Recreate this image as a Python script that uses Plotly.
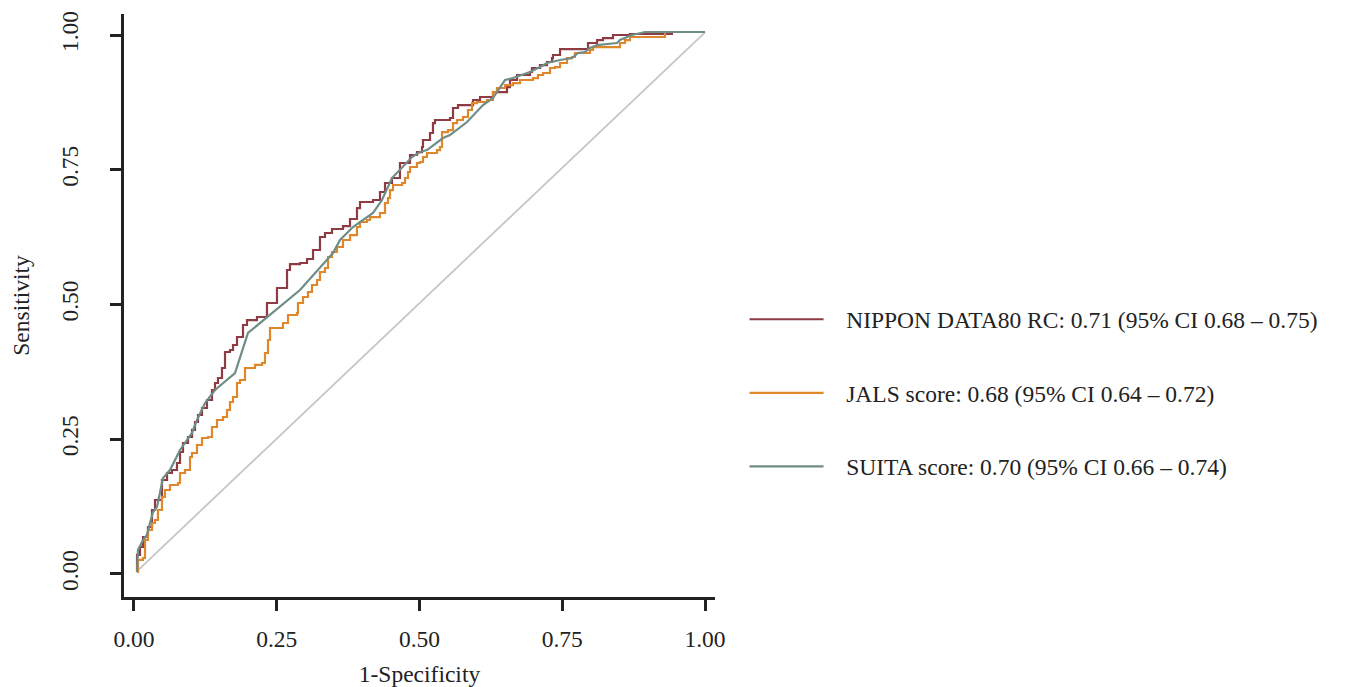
import plotly.graph_objects as go

# ---- data ----
nippon_fpr = [0.0053, 0.0053, 0.0105, 0.0158, 0.0228, 0.0245, 0.0315, 0.0368, 0.0420, 0.0490, 0.0578, 0.0665,
              0.0753, 0.0806, 0.0858, 0.0946, 0.1016, 0.1068, 0.1121, 0.1191, 0.1278, 0.1366, 0.1419, 0.1471,
              0.1541, 0.1594, 0.1681, 0.1734, 0.1804, 0.1909, 0.1979, 0.2154, 0.2329, 0.2504, 0.2680, 0.2732,
              0.2907, 0.3030, 0.3135, 0.3257, 0.3345, 0.3468, 0.3660, 0.3783, 0.3905, 0.3958, 0.4186, 0.4308,
              0.4396, 0.4518, 0.4658, 0.4834, 0.4956, 0.5044, 0.5061, 0.5184, 0.5236, 0.5271, 0.5534, 0.5587,
              0.5674, 0.5832, 0.5937, 0.6060, 0.6200, 0.6287, 0.6532, 0.6585, 0.6708, 0.6935, 0.6970, 0.7110,
              0.7233, 0.7320, 0.7338, 0.7461, 0.7933, 0.7951, 0.8109, 0.8214, 0.8389, 0.8687, 0.9440]
nippon_tpr = [0.0037, 0.0353, 0.0501, 0.0686, 0.0724, 0.0872, 0.1187, 0.1373, 0.1373, 0.1744, 0.1874, 0.1929,
              0.2059, 0.2263, 0.2430, 0.2542, 0.2672, 0.2820, 0.2950, 0.3080, 0.3228, 0.3414, 0.3544, 0.3636,
              0.3822, 0.4119, 0.4156, 0.4249, 0.4397, 0.4620, 0.4712, 0.4768, 0.5028, 0.5306, 0.5640, 0.5751,
              0.5770, 0.5844, 0.6011, 0.6252, 0.6327, 0.6401, 0.6456, 0.6586, 0.6790, 0.6902, 0.6939, 0.7087,
              0.7254, 0.7347, 0.7625, 0.7774, 0.7829, 0.7922, 0.8052, 0.8182, 0.8367, 0.8423, 0.8460, 0.8646,
              0.8701, 0.8701, 0.8794, 0.8850, 0.8850, 0.8942, 0.9035, 0.9165, 0.9258, 0.9314, 0.9388, 0.9443,
              0.9499, 0.9573, 0.9629, 0.9740, 0.9740, 0.9852, 0.9907, 0.9944, 1.0000, 1.0019, 1.0019]

jals_fpr = [0.0053, 0.0070, 0.0158, 0.0193, 0.0245, 0.0315, 0.0368, 0.0420, 0.0490, 0.0543, 0.0630, 0.0771,
            0.0806, 0.0893, 0.0981, 0.1016, 0.1103, 0.1191, 0.1296, 0.1366, 0.1454, 0.1559, 0.1629, 0.1681,
            0.1734, 0.1804, 0.1856, 0.1944, 0.2119, 0.2242, 0.2294, 0.2347, 0.2382, 0.2557, 0.2609, 0.2697,
            0.2855, 0.2872, 0.2960, 0.3047, 0.3117, 0.3205, 0.3257, 0.3345, 0.3398, 0.3468, 0.3555, 0.3660,
            0.3783, 0.3905, 0.3958, 0.4081, 0.4133, 0.4308, 0.4396, 0.4448, 0.4483, 0.4536, 0.4694, 0.4746,
            0.4799, 0.4834, 0.4956, 0.5009, 0.5061, 0.5131, 0.5306, 0.5359, 0.5394, 0.5499, 0.5587, 0.5657,
            0.5762, 0.5849, 0.5919, 0.6007, 0.6182, 0.6287, 0.6357, 0.6497, 0.6637, 0.6760, 0.6988, 0.7075,
            0.7163, 0.7285, 0.7373, 0.7461, 0.7583, 0.7671, 0.7723, 0.7933, 0.7986, 0.8039, 0.8459, 0.8511,
            0.8599, 0.8687, 0.9264, 0.9299]
jals_tpr = [0.0037, 0.0260, 0.0297, 0.0631, 0.0816, 0.0946, 0.1002, 0.1187, 0.1429, 0.1558, 0.1651, 0.1688,
            0.1874, 0.1929, 0.2171, 0.2245, 0.2393, 0.2523, 0.2542, 0.2727, 0.2857, 0.2913, 0.3043, 0.3191,
            0.3284, 0.3544, 0.3599, 0.3822, 0.3878, 0.3915, 0.4100, 0.4341, 0.4564, 0.4564, 0.4657, 0.4805,
            0.4842, 0.5028, 0.5139, 0.5232, 0.5362, 0.5455, 0.5603, 0.5677, 0.5881, 0.5974, 0.6067, 0.6197,
            0.6289, 0.6438, 0.6531, 0.6568, 0.6623, 0.6698, 0.6883, 0.6976, 0.7124, 0.7217, 0.7254, 0.7347,
            0.7458, 0.7551, 0.7625, 0.7644, 0.7737, 0.7811, 0.7866, 0.7922, 0.8200, 0.8237, 0.8367, 0.8423,
            0.8479, 0.8609, 0.8738, 0.8757, 0.8794, 0.8942, 0.9017, 0.9072, 0.9109, 0.9165, 0.9202, 0.9258,
            0.9295, 0.9388, 0.9406, 0.9481, 0.9573, 0.9592, 0.9666, 0.9666, 0.9722, 0.9777, 0.9777, 0.9852,
            0.9907, 0.9963, 0.9963, 1.0037]

suita_fpr = [0.0053, 0.0070, 0.0158, 0.0228, 0.0280, 0.0333, 0.0403, 0.0508, 0.0630, 0.0753, 0.0806, 0.1016,
             0.1103, 0.1244, 0.1419, 0.1769, 0.1996, 0.2907, 0.3485, 0.3608, 0.3835, 0.4186, 0.4343, 0.4518,
             0.4869, 0.5009, 0.5131, 0.5412, 0.5534, 0.5832, 0.6112, 0.6287, 0.6410, 0.6497, 0.6637, 0.6795,
             0.6935, 0.7110, 0.7233, 0.7461, 0.7671, 0.7776, 0.7898, 0.7986, 0.8109, 0.8459, 0.8511, 0.8722,
             0.8949, 1.0000]
suita_tpr = [0.0037, 0.0445, 0.0631, 0.0724, 0.0946, 0.1150, 0.1243, 0.1781, 0.1929, 0.2171, 0.2301, 0.2616,
             0.2857, 0.3173, 0.3414, 0.3729, 0.4471, 0.5269, 0.5955, 0.6197, 0.6438, 0.6698, 0.6939, 0.7347,
             0.7737, 0.7829, 0.7866, 0.8089, 0.8145, 0.8386, 0.8701, 0.8831, 0.9017, 0.9165, 0.9202, 0.9258,
             0.9314, 0.9406, 0.9481, 0.9536, 0.9573, 0.9666, 0.9685, 0.9759, 0.9814, 0.9852, 0.9907, 1.0000,
             1.0056, 1.0056]

ref_x = [0.005, 1.0]
ref_y = [0.005, 1.005]

names = ["NIPPON DATA80 RC: 0.71 (95% CI 0.68 \u2013 0.75)",
         "JALS score: 0.68 (95% CI 0.64 \u2013 0.72)",
         "SUITA score: 0.70 (95% CI 0.66 \u2013 0.74)"]
colors = ["#8E3B43", "#E0862B", "#6E8D87"]

tick_vals = [0, 0.25, 0.5, 0.75, 1.0]
tick_text = ["0.00", "0.25", "0.50", "0.75", "1.00"]

FONT = "Liberation Serif, Times New Roman, serif"
PAD = "\u00a0\u00a0\u00a0"

fig = go.Figure()
fig.add_trace(go.Scatter(x=ref_x, y=ref_y, mode="lines", line=dict(color="#C6C6C6", width=1.8),
                         showlegend=False, hoverinfo="skip"))
fig.add_trace(go.Scatter(x=nippon_fpr, y=nippon_tpr, mode="lines", name=PAD + names[0], legendgroup="a",
                         line=dict(color=colors[0], width=2.2, shape="hv")))
fig.add_trace(go.Scatter(x=jals_fpr, y=jals_tpr, mode="lines", name=PAD + names[1], legendgroup="b",
                         line=dict(color=colors[1], width=2.2, shape="hv")))
fig.add_trace(go.Scatter(x=suita_fpr, y=suita_tpr, mode="lines", name=PAD + names[2], legendgroup="c",
                         line=dict(color=colors[2], width=2.2)))

axis_common = dict(showgrid=False, zeroline=False, showline=True, linecolor="#222222", linewidth=3,
                   ticks="outside", ticklen=11, tickwidth=3, tickcolor="#222222",
                   tickvals=tick_vals, ticktext=tick_text, automargin=False,
                   tickfont=dict(family=FONT, size=23.5, color="#222222"))

fig.update_layout(
    width=1347, height=679,
    margin=dict(l=116, r=640, t=6, b=90),
    paper_bgcolor="white", plot_bgcolor="white",
    font=dict(family=FONT, size=23.5, color="#222222"),
    xaxis=dict(range=[-0.0175, 1.0175], title=dict(text="1-Specificity", standoff=17,
                                                      font=dict(family=FONT, size=23.5)),
               ticklabelstandoff=8, **axis_common),
    yaxis=dict(range=[-0.0427, 1.039], tickangle=-90, title=dict(text="Sensitivity", standoff=21,
                                                                  font=dict(family=FONT, size=23.5)),
               ticklabelstandoff=23, **axis_common),
    legend=dict(x=1.05, y=0.35, xanchor="left", yanchor="middle", tracegroupgap=40,
                itemwidth=74, bgcolor="rgba(0,0,0,0)",
                font=dict(family=FONT, size=23.5, color="#222222")),
)

fig.write_html("out.html")
